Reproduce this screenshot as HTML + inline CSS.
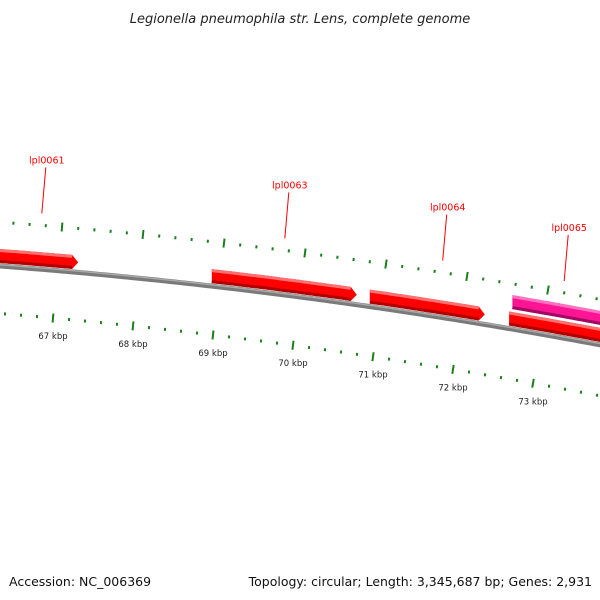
<!DOCTYPE html>
<html><head><meta charset="utf-8"><style>
body{margin:0;background:#fff}
svg{display:block}
</style></head><body>
<svg id="chart" width="600" height="600" viewBox="0 0 600 600" xmlns="http://www.w3.org/2000/svg">
<text x="300" y="23" text-anchor="middle" font-family="DejaVu Sans, Liberation Sans, sans-serif" font-style="italic" font-size="13" fill="#222">Legionella pneumophila str. Lens, complete genome</text>
<text x="9" y="586" font-family="DejaVu Sans, Liberation Sans, sans-serif" font-size="12.5" fill="#111">Accession: NC_006369</text>
<text x="592" y="586" text-anchor="end" font-family="DejaVu Sans, Liberation Sans, sans-serif" font-size="12.5" fill="#111">Topology: circular; Length: 3,345,687 bp; Genes: 2,931</text>
<g id="layer"></g>
</svg>
<script>
// data
const majorKbp = [66, 67, 68, 69, 70, 71, 72, 73, 74];
const tickLabels = ["66 kbp","67 kbp","68 kbp","69 kbp","70 kbp","71 kbp","72 kbp","73 kbp","74 kbp"];
const geneNames = ["lpl0061", "lpl0063", "lpl0064", "lpl0065", "lpl0065b"];
const geneStart = [66.0, 68.85, 70.80, 72.56, 72.52];
const geneEnd = [67.20, 70.64, 72.22, 74.2, 74.2];
const geneTrack = [0, 0, 0, 1, 0];
const geneLabeled = [true, true, true, true, false];
const labelKbp = [66.75, 69.75, 71.70, 73.20, 0];

const NS = "http://www.w3.org/2000/svg";
const layer = document.getElementById('layer');
const C = 9.4e-5;
function yBack(x){return 266 + 0.075*x + C*x*x;}
function yUp(x){return 222.2 + 0.0722*x + C*x*x;}
function yLow(x){return 313.5 + 0.0808*x + C*x*x;}
function xUp(k){return 62 + 81*(k-67);}
function xLow(k){return 53 + 80*(k-67);}
function xGene(k){return 62 + 81*(k-67);}
function slope(x){return 0.075 + 2*C*x;}

function mk(tag, attrs){const e=document.createElementNS(NS,tag);for(const k in attrs)e.setAttribute(k,attrs[k]);layer.appendChild(e);return e;}

// backbone
let pts=[],pts2=[];
for(let x=-5;x<=605;x+=5){pts.push(x+','+(yBack(x)).toFixed(2));pts2.push(x+','+(yBack(x)-1.3).toFixed(2));}
let bb=mk('polyline',{points:pts.join(' '),fill:'none',stroke:'#7a7a7a','stroke-width':5});


let bb2=mk('polyline',{points:pts2.join(' '),fill:'none',stroke:'#a8a8a8','stroke-width':1.5});



// ticks
function drawTicks(xf,yf,row,labels){
  for(let i=0;i<majorKbp.length;i++){
    for(let m=0;m<5;m++){
      const k=majorKbp[i]+m*0.2;
      const x=xf(k); if(x<-5||x>605) continue;
      const y=yf(x); const s=slope(x);
      const n=Math.hypot(1,s); const nx=-s/n, ny=1/n;
      const len = m===0?9:3;
      const t=mk('line',{x1:(x-nx*len/2).toFixed(2),y1:(y-ny*len/2).toFixed(2),x2:(x+nx*len/2).toFixed(2),y2:(y+ny*len/2).toFixed(2),stroke:'#1a7f1a','stroke-width':2});
      
      
      if(labels && m===0){
        const tx=mk('text',{x:x.toFixed(1),y:(y+21).toFixed(1),'text-anchor':'middle','font-family':'DejaVu Sans, Liberation Sans, sans-serif','font-size':'8.5',fill:'#222'});
        tx.textContent=tickLabels[i];
        
        
      }
    }
  }
}
drawTicks(xUp,yUp,'outer',false);
drawTicks(xLow,yLow,'inner',true);

// genes
for(let g=0;g<geneNames.length;g++){
  const x0=xGene(geneStart[g]), x1=xGene(geneEnd[g]);
  const off = geneTrack[g]===1 ? -27 : -10;
  const h=14, head=6;
  const top=[],bot=[];
  const xe = x1-head;
  for(let x=x0;x<xe;x+=4){top.push([x,yBack(x)+off-h/2]);bot.push([x,yBack(x)+off+h/2]);}
  top.push([xe,yBack(xe)+off-h/2]);bot.push([xe,yBack(xe)+off+h/2]);
  const tip=[x1,yBack(x1)+off];
  const poly=top.concat([tip]).concat(bot.slice().reverse());
  const fill=geneTrack[g]===1?'#ff1493':'#ff0000';
  const dark=geneTrack[g]===1?'#a00a60':'#b00000';
  const light=geneTrack[g]===1?'#ff70c0':'#ff7070';
  const p=mk('polygon',{points:poly.map(q=>q[0].toFixed(1)+','+q[1].toFixed(1)).join(' '),fill:fill});
  
  
  const hl=mk('polyline',{points:top.map(q=>q[0].toFixed(1)+','+(q[1]+1.5).toFixed(1)).join(' '),fill:'none',stroke:light,'stroke-width':3});
  
  
  const sh=mk('polyline',{points:bot.map(q=>q[0].toFixed(1)+','+(q[1]-1.5).toFixed(1)).join(' '),fill:'none',stroke:dark,'stroke-width':3});
  
  
  if(geneLabeled[g]){
    const lx=xGene(labelKbp[g]);
    const ly=yUp(lx)-12;
    const ln=mk('line',{x1:(lx+4).toFixed(1),y1:(ly-46).toFixed(1),x2:lx.toFixed(1),y2:ly.toFixed(1),stroke:'#ff0000','stroke-width':1});
    
    
    const t=mk('text',{x:(lx+5).toFixed(1),y:(ly-50).toFixed(1),'text-anchor':'middle','font-family':'DejaVu Sans, Liberation Sans, sans-serif','font-size':'9.5',fill:'#ff0000'});
    t.textContent=geneNames[g];
    
    
  }
}
</script>
</body></html>
